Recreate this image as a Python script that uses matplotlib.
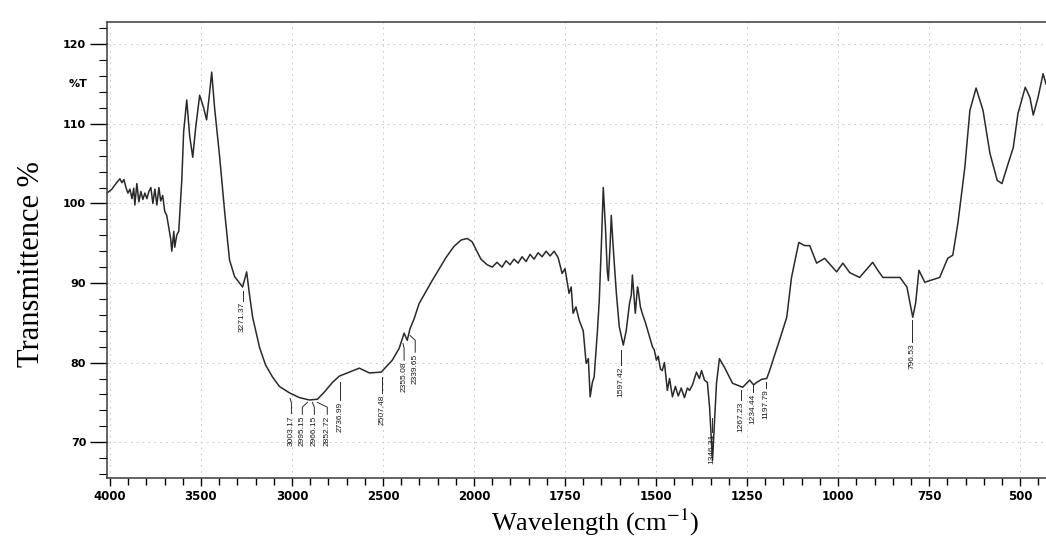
import matplotlib.pyplot as plt
import numpy as np

plt.rcParams['mathtext.fontset'] = 'stix'

# IR spectrum (wavenumber cm-1, %T)
wavenumber = [4016, 3989, 3967, 3945, 3934, 3923, 3912, 3901, 3890, 3879,
              3869, 3863, 3852, 3841, 3830, 3819, 3808, 3797, 3786, 3775,
              3764, 3753, 3742, 3731, 3721, 3710, 3699, 3688, 3677, 3666,
              3660, 3649, 3644, 3633, 3622, 3605, 3595, 3578, 3562, 3545,
              3529, 3507, 3485, 3469, 3452, 3441, 3425, 3397, 3370, 3343,
              3315, 3288, 3271, 3249, 3233, 3216, 3178, 3145, 3107, 3069,
              3014, 2959, 2904, 2860, 2822, 2778, 2740, 2685, 2630, 2575,
              2510, 2449, 2411, 2384, 2367, 2351, 2329, 2302, 2230, 2154,
              2110, 2071, 2038, 2011, 1992, 1981, 1964, 1950, 1937, 1923,
              1912, 1901, 1890, 1879, 1868, 1857, 1846, 1835, 1824, 1813,
              1802, 1791, 1780, 1769, 1758, 1750, 1739, 1733, 1728, 1720,
              1711, 1700, 1692, 1686, 1681, 1675, 1670, 1661, 1656, 1650,
              1645, 1639, 1634, 1631, 1626, 1623, 1617, 1609, 1601, 1590,
              1582, 1573, 1568, 1565, 1560, 1557, 1551, 1549, 1543, 1538,
              1529, 1524, 1518, 1510, 1505, 1499, 1494, 1488, 1483, 1477,
              1469, 1463, 1455, 1447, 1439, 1431, 1422, 1414, 1408, 1400,
              1389, 1381, 1375, 1367, 1359, 1353, 1345, 1340, 1334, 1326,
              1312, 1290, 1262, 1243, 1232, 1224, 1210, 1196, 1188, 1174,
              1161, 1141, 1128, 1108, 1092, 1078, 1059, 1037, 1004, 987,
              968, 941, 905, 891, 877, 830, 811, 795, 787, 778,
              762, 721, 699, 685, 671, 652, 638, 621, 602, 583,
              563, 550, 533, 519, 506, 486, 473, 464, 451, 437, 429]
transmittance = [101.3, 101.8, 102.5, 103.1, 102.6, 103.0, 102.0, 101.3, 101.8, 100.6,
                 101.9, 99.8, 102.5, 100.2, 101.5, 100.5, 101.3, 100.6, 101.5, 102.0,
                 100.0, 101.8, 99.8, 102.0, 100.3, 101.0, 99.0, 98.5, 97.0, 95.5,
                 94.0, 96.5, 94.5, 96.0, 96.5, 103.0, 109.0, 113.0, 108.5, 105.8,
                 109.5, 113.6, 112.0, 110.5, 114.0, 116.5, 112.0, 105.8, 99.0, 92.9,
                 90.8, 90.0, 89.5, 91.4, 88.5, 85.7, 81.9, 79.7, 78.2, 77.0,
                 76.2, 75.6, 75.3, 75.4, 76.3, 77.5, 78.3, 78.8, 79.3, 78.7,
                 78.8, 80.3, 81.8, 83.7, 82.8, 84.3, 85.5, 87.4, 90.3, 93.2,
                 94.6, 95.4, 95.6, 95.2, 94.0, 93.0, 92.3, 92.0, 92.6, 92.0,
                 92.8, 92.3, 93.0, 92.5, 93.3, 92.7, 93.6, 93.0, 93.8, 93.3,
                 94.0, 93.4, 94.0, 93.2, 91.2, 91.8, 88.7, 89.5, 86.2, 87.0,
                 85.3, 84.0, 79.9, 80.5, 75.7, 77.5, 78.2, 84.0, 87.8, 95.0,
                 102.0, 97.0, 91.5, 90.3, 95.0, 98.5, 94.0, 88.7, 84.5, 82.2,
                 84.0, 87.4, 88.5, 91.0, 88.0, 86.2, 89.5, 89.1, 87.0, 86.2,
                 85.0, 84.2, 83.2, 82.0, 81.6, 80.3, 80.8, 79.2, 79.0, 80.0,
                 76.5, 78.0, 75.7, 77.0, 75.8, 76.8, 75.6, 76.8, 76.5, 77.2,
                 78.8, 78.0, 79.0, 77.8, 77.5, 74.4, 67.7, 72.0, 77.4, 80.5,
                 79.4, 77.4, 76.9, 77.8, 77.2, 77.5, 77.9, 78.0, 79.0, 81.0,
                 82.8, 85.7, 90.7, 95.1, 94.7, 94.7, 92.5, 93.1, 91.4, 92.5,
                 91.3, 90.7, 92.6, 91.6, 90.7, 90.7, 89.5, 85.7, 87.5, 91.6,
                 90.1, 90.7, 93.1, 93.5, 97.5, 104.5, 111.7, 114.5, 111.7, 106.3,
                 102.9, 102.5, 105.0, 107.0, 111.3, 114.6, 113.3, 111.1, 113.3, 116.3, 115.0]

# peak labels: leader start on the curve and top of the text
peak_labels = ['3271.37', '3003.17', '2995.15', '2966.15', '2852.72', '2736.99',
               '2507.48', '2355.08', '2339.65', '1597.42', '1346.31', '1267.23',
               '1234.44', '1197.79', '796.53']
lead_x = [3271, 3010, 2915, 2888, 2860, 2737, 2507, 2390, 2351, 1597, 1346, 1267, 1234, 1198, 796]
lead_y = [89.0, 75.5, 75.0, 75.0, 75.0, 77.5, 78.2, 82.4, 83.4, 81.6, 73.0, 76.6, 77.3, 77.5, 85.3]
text_x = [3271, 3003, 2943, 2877, 2806, 2737, 2507, 2384, 2323, 1597, 1346, 1267, 1234, 1198, 796]
text_y = [87.8, 73.6, 73.5, 73.5, 73.5, 75.3, 76.2, 80.3, 81.3, 79.7, 71.3, 75.3, 76.3, 76.8, 82.6]

major_x = [4000, 3500, 3000, 2500, 2000, 1750, 1500, 1250, 1000, 750, 500]
minor_x = list(range(4000, 2000, -100)) + list(range(2000, 400, -50))


# the instrument halves the scale above 2000 cm-1
def fwd(x):
    x = np.asarray(x, dtype=float)
    return np.where(x > 2000, 2000 + (x - 2000) / 2, x)


def inv(x):
    x = np.asarray(x, dtype=float)
    return np.where(x > 2000, 2000 + (x - 2000) * 2, x)


fig = plt.figure(figsize=(10.46, 5.39), dpi=100)
ax = fig.add_axes([0.1023, 0.1132, 0.8977, 0.8460])
ax.set_xscale('function', functions=(fwd, inv))

ax.plot(wavenumber, transmittance, color='#2a2a2a', linewidth=1.1)

for lab, lx, ly, tx, ty in zip(peak_labels, lead_x, lead_y, text_x, text_y):
    ax.plot([lx, tx, tx], [ly, ly - 0.6, ty], color='#2a2a2a', linewidth=0.7)
    ax.text(tx, ty - 0.2, lab, rotation=90, ha='center', va='top',
            fontsize=6, family='Liberation Sans', color='#1a1a1a')

ax.set_xlim(4016, 429)
ax.set_ylim(65.5, 122.8)
ax.set_xticks(major_x)
ax.set_xticks(minor_x, minor=True)
ax.set_xticklabels([str(v) for v in major_x])
ax.set_yticks([70, 80, 90, 100, 110, 120])
ax.set_yticks(np.arange(66, 123, 2), minor=True)

for lab in ax.get_xticklabels() + ax.get_yticklabels():
    lab.set_fontweight('bold')
ax.tick_params(axis='x', which='major', direction='out', length=6, width=1, labelsize=8.5, pad=3)
ax.tick_params(axis='x', which='minor', direction='out', length=5, width=1)
ax.tick_params(axis='y', which='major', direction='out', length=12, width=1, labelsize=8, pad=3)
ax.tick_params(axis='y', which='minor', direction='out', length=6, width=0.8)

ax.grid(True, which='major', color='#cfcfcf', linestyle=(0, (2, 4)), linewidth=0.7)
for s in ['left', 'bottom', 'top']:
    ax.spines[s].set_color('#3a3a3a')
    ax.spines[s].set_linewidth(1.1)
ax.spines['right'].set_visible(False)

ax.text(-0.021, 115, '%T', transform=ax.get_yaxis_transform(), ha='right', va='center',
        fontsize=8, fontweight='bold')

ax.set_xlabel('Wavelength (cm$^{-1}$)', family='Liberation Serif', fontsize=19)
ax.xaxis.set_label_coords(0.52, -0.064)
ax.xaxis.label.set_va('top')
ax.set_ylabel('Transmittence %', family='Liberation Serif', fontsize=22)
ax.yaxis.set_label_coords(-0.065, 0.47)

plt.savefig('out.png', dpi=100)
